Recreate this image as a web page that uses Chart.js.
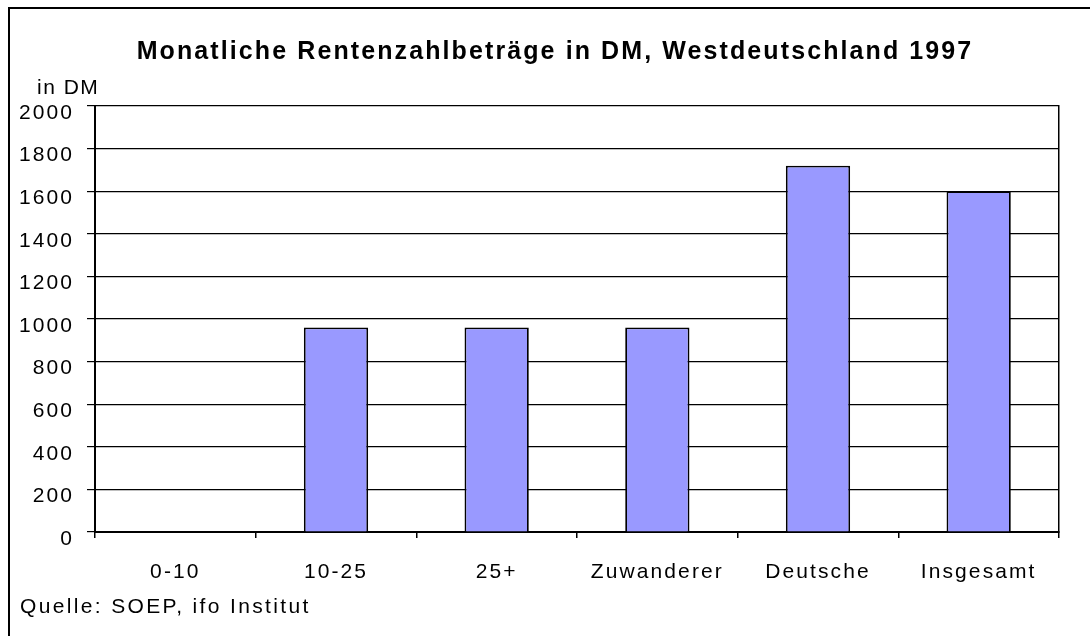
<!DOCTYPE html>
<html>
<head>
<meta charset="utf-8">
<script src="https://cdn.jsdelivr.net/npm/chart.js@4.4.1/dist/chart.umd.min.js"></script>
<style>
  html, body { margin: 0; padding: 0; background: #fff; }
  #wrap { width: 1090px; height: 636px; position: relative; }
</style>
</head>
<body>
<div id="wrap"><canvas id="c" width="1090" height="636"></canvas></div>
<script>
const categories = ['0-10', '10-25', '25+', 'Zuwanderer', 'Deutsche', 'Insgesamt'];
const renten = [0, 960, 960, 960, 1720, 1600];
const yTicks = [0, 200, 400, 600, 800, 1000, 1200, 1400, 1600, 1800, 2000];
const titleText = 'Monatliche Rentenzahlbeträge in DM, Westdeutschland 1997';
const unitText = 'in DM';
const sourceText = 'Quelle: SOEP, ifo Institut';

const FONT = '"Liberation Sans", Arial, sans-serif';

const decor = {
  id: 'decor',
  beforeDraw(chart) {
    chart.ctx.letterSpacing = '2.1px';
  },
  afterDraw(chart) {
    const ctx = chart.ctx;
    const a = chart.chartArea;
    ctx.save();
    ctx.letterSpacing = '1.5px';
    ctx.fillStyle = '#000';
    ctx.font = '21px ' + FONT;
    ctx.textAlign = 'left';
    ctx.textBaseline = 'alphabetic';
    ctx.fillText(unitText, a.left - 58, a.top - 12);
    ctx.letterSpacing = '2.35px';
    ctx.fillText(sourceText, 20, 613);
    ctx.lineWidth = 2;
    ctx.strokeStyle = '#000';
    ctx.strokeRect(9, 8, 1100, 660);
    ctx.restore();
  }
};

new Chart(document.getElementById('c'), {
  type: 'bar',
  data: {
    labels: categories,
    datasets: [{
      data: renten,
      backgroundColor: '#9999FF',
      borderColor: '#000',
      borderWidth: 1.8,
      inflateAmount: 0,
      barPercentage: 0.4,
      categoryPercentage: 1.0
    }]
  },
  options: {
    responsive: false,
    animation: false,
    layout: { padding: { left: 20, right: 0, top: 0, bottom: 0 } },
    plugins: {
      legend: { display: false },
      tooltip: { enabled: false },
      title: {
        display: true,
        text: titleText,
        color: '#000',
        font: { family: FONT, size: 25, weight: 'bold' },
        padding: { top: 37, bottom: 39 }
      }
    },
    scales: {
      x: {
        offset: true,
        grid: { display: true, drawOnChartArea: false, drawTicks: true, tickLength: 6, color: '#000', lineWidth: 1.5, offset: true },
        border: { display: true, color: '#000', width: 2 },
        ticks: { color: '#000', font: { family: FONT, size: 21 }, padding: 22, maxRotation: 0, autoSkip: false },
        afterFit(s) { s.height = 104; }
      },
      y: {
        min: 0, max: 2000,
        afterBuildTicks(s) { s.ticks = yTicks.map(v => ({ value: v })); },
        grid: { color: '#000', lineWidth: 1.2, tickLength: 8 },
        border: { display: true, color: '#000', width: 2 },
        ticks: { color: '#000', font: { family: FONT, size: 21 }, padding: 13, labelOffset: 7, callback: v => String(v) },
        afterFit(s) { s.width = 75; }
      },
      y2: {
        position: 'right',
        min: 0, max: 2000,
        grid: { drawOnChartArea: false, drawTicks: false },
        border: { display: true, color: '#000', width: 1.5 },
        ticks: { display: false },
        afterFit(s) { s.width = 31; }
      }
    }
  },
  plugins: [decor]
});
</script>
</body>
</html>
